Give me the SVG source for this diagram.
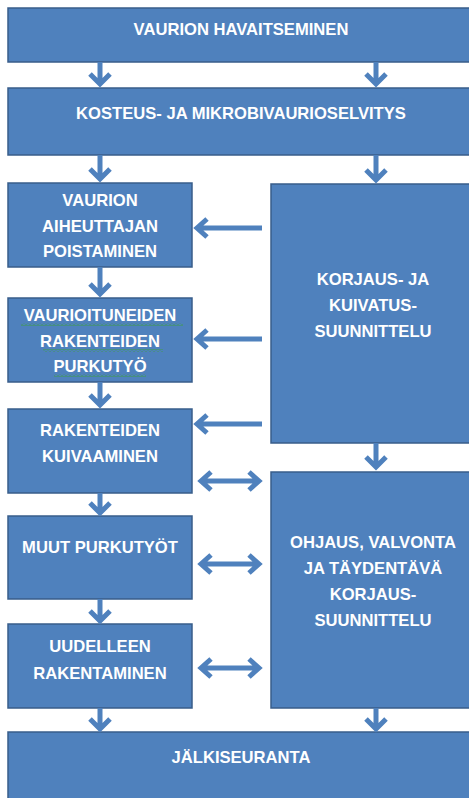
<svg xmlns="http://www.w3.org/2000/svg" width="469" height="798" viewBox="0 0 469 798">
<defs>
<pattern id="wave" width="4" height="3" patternUnits="userSpaceOnUse"><path d="M0,2.5L2,0.5L4,2.5" fill="none" stroke="#3CA03C" stroke-width="0.9"/></pattern>
</defs>
<style>
.box{fill:#4F81BD;stroke:#385D8A;stroke-width:1.5}
.t{font-family:"Liberation Sans",Arial,sans-serif;font-weight:bold;font-size:16.6px;fill:#FFFFFF;text-anchor:middle}
.a{fill:none;stroke:#4F81BD;stroke-width:5;stroke-linejoin:miter}
.sq{fill:url(#wave)}
</style>
<rect width="469" height="798" fill="#FFFFFF"/>
<g id="n1"><rect class="box" x="8" y="8" width="470" height="54"/><text class="t" x="241" y="35">VAURION HAVAITSEMINEN</text></g>
<g id="n2"><rect class="box" x="8" y="88" width="470" height="67"/><text class="t" x="241" y="119">KOSTEUS- JA MIKROBIVAURIOSELVITYS</text></g>
<g id="n3"><rect class="box" x="8" y="183" width="184" height="84"/><text class="t" x="100" y="206">VAURION</text><text class="t" x="100" y="232">AIHEUTTAJAN</text><text class="t" x="100" y="257">POISTAMINEN</text></g>
<g id="n4"><rect class="box" x="8" y="298" width="184" height="84"/><text class="t" x="100" y="321">VAURIOITUNEIDEN</text><text class="t" x="100" y="347">RAKENTEIDEN</text><text class="t" x="100" y="372">PURKUTYÖ</text>
<rect class="sq" x="21" y="323" width="162" height="3"/><rect class="sq" x="43" y="349" width="120" height="3"/><rect class="sq" x="54" y="374" width="92" height="3"/></g>
<g id="n5"><rect class="box" x="8" y="409" width="184" height="84"/><text class="t" x="100" y="436">RAKENTEIDEN</text><text class="t" x="100" y="462">KUIVAAMINEN</text></g>
<g id="n6"><rect class="box" x="8" y="516" width="184" height="83"/><text class="t" x="100" y="553">MUUT PURKUTYÖT</text></g>
<g id="n7"><rect class="box" x="8" y="624" width="184" height="84"/><text class="t" x="100" y="652">UUDELLEEN</text><text class="t" x="100" y="679">RAKENTAMINEN</text></g>
<g id="n8"><rect class="box" x="271" y="184" width="207" height="259"/><text class="t" x="373" y="285">KORJAUS- JA</text><text class="t" x="373" y="311">KUIVATUS-</text><text class="t" x="373" y="337">SUUNNITTELU</text></g>
<g id="n9"><rect class="box" x="271" y="472" width="207" height="236"/><text class="t" x="373" y="548">OHJAUS, VALVONTA</text><text class="t" x="373" y="574">JA TÄYDENTÄVÄ</text><text class="t" x="373" y="600">KORJAUS-</text><text class="t" x="373" y="626">SUUNNITTELU</text></g>
<g id="n10"><rect class="box" x="8" y="732" width="470" height="80"/><text class="t" x="241" y="763">JÄLKISEURANTA</text></g>
<g id="connectors">
<path class="a" d="M100,62V84M90,74L100,84L110,74"/>
<path class="a" d="M376,62V84M366,74L376,84L386,74"/>
<path class="a" d="M100,155V179M90,169L100,179L110,169"/>
<path class="a" d="M376,155V180M366,170L376,180L386,170"/>
<path class="a" d="M100,267V294M90,284L100,294L110,284"/>
<path class="a" d="M100,382V405M90,395L100,405L110,395"/>
<path class="a" d="M100,493V513M90,503L100,513L110,503"/>
<path class="a" d="M100,599V621M90,611L100,621L110,611"/>
<path class="a" d="M100,708V729M90,719L100,729L110,719"/>
<path class="a" d="M376,443V467M366,457L376,467L386,457"/>
<path class="a" d="M376,708V729M366,719L376,729L386,719"/>
<path class="a" d="M262,228H197M207,219L197,228L207,237"/>
<path class="a" d="M262,339H197M207,330L197,339L207,348"/>
<path class="a" d="M262,424H197M207,415L197,424L207,433"/>
<path class="a" d="M201,481H259M211,472L201,481L211,490M249,472L259,481L249,490"/>
<path class="a" d="M201,564H259M211,555L201,564L211,573M249,555L259,564L249,573"/>
<path class="a" d="M201,668H259M211,659L201,668L211,677M249,659L259,668L249,677"/>
</g>
</svg>
